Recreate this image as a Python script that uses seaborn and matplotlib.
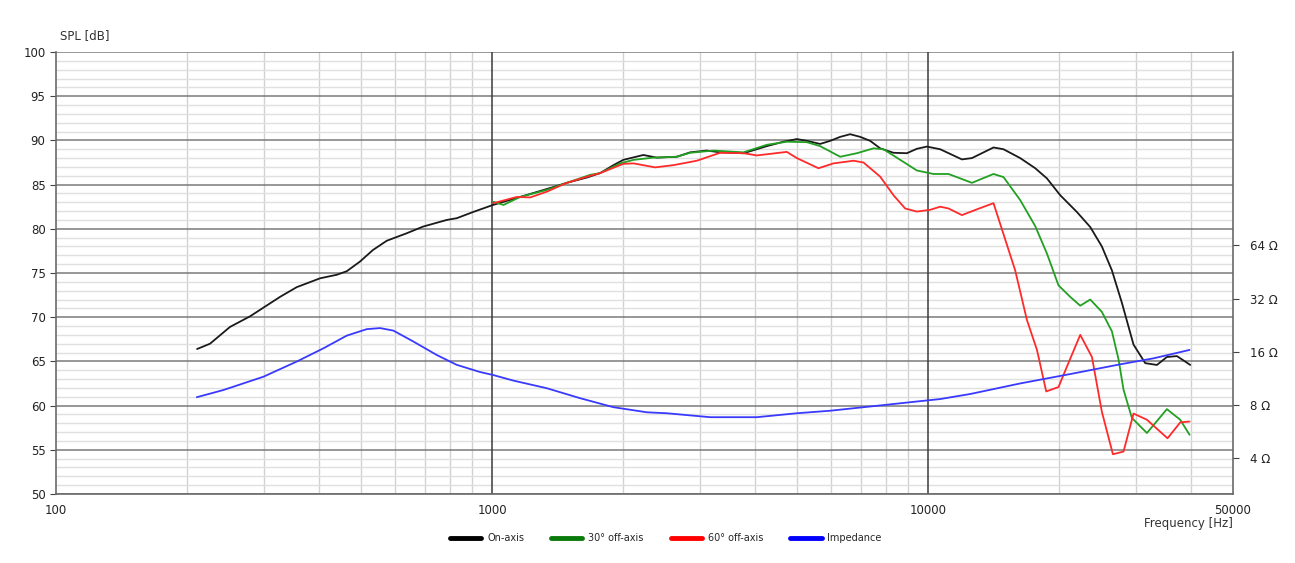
import numpy as np
import pandas as pd
import seaborn as sns
import matplotlib.pyplot as plt
from matplotlib.lines import Line2D
from matplotlib.ticker import FixedLocator, NullFormatter, MultipleLocator, NullLocator

# On-axis response
on_freq = [210.6, 225.5, 250.6, 278.6, 326.4, 356.5, 403.2, 440.4, 464.2, 498, 533, 573.5,
           637.5, 694.6, 787, 830, 904.5, 1005, 1159, 1335, 1484, 1649, 1769, 1898, 2000,
           2223, 2387, 2652, 2846, 3108, 3334, 3772, 4265, 4657, 4998, 5268, 5653, 5961,
           6284, 6624, 6983, 7362, 7761, 8325, 8934, 9419, 9931, 10654, 11950, 12600,
           14118, 14883, 16254, 17600, 18720, 20080, 21930, 23530, 25020, 26380,
           27820, 29570, 31460, 33460, 35270, 37190, 39900]
on_spl = [66.4, 67.0, 68.9, 70.1, 72.3, 73.4, 74.4, 74.8, 75.2, 76.3, 77.6, 78.65,
          79.5, 80.25, 81.0, 81.2, 81.9, 82.7, 83.6, 84.5, 85.2, 85.8, 86.3, 87.2, 87.8,
          88.35, 88.05, 88.15, 88.65, 88.85, 88.65, 88.55, 89.35, 89.85, 90.15, 89.95, 89.6, 89.95,
          90.4, 90.7, 90.4, 89.95, 89.1, 88.6, 88.55, 89.05, 89.3, 89.0, 87.85, 88.0,
          89.2, 89.0, 88.0, 86.85, 85.7, 83.8, 81.9, 80.2, 78.0, 75.3,
          71.6, 66.9, 64.8, 64.6, 65.5, 65.6, 64.6]

# 30 deg off-axis
off30_freq = [1007, 1062, 1159, 1335, 1484, 1678, 1769, 1967, 2110, 2344, 2652, 2846, 3218,
              3772, 4265, 4740, 5268, 5653, 6284, 6862, 7491, 7898, 8627, 9419, 10285, 11133,
              12600, 14118, 14883, 16254, 17600, 18720, 19900, 21170, 22320, 23530, 25020,
              26380, 27330, 28050, 29320, 31740, 35270, 37840, 39750]
off30_spl = [83.05, 82.7, 83.6, 84.4, 85.2, 86.1, 86.3, 87.4, 87.8, 88.05, 88.15, 88.6, 88.85,
             88.65, 89.5, 89.85, 89.8, 89.35, 88.15, 88.55, 89.1, 89.0, 87.8, 86.6, 86.2, 86.2,
             85.2, 86.2, 85.85, 83.25, 80.3, 77.2, 73.6, 72.3, 71.3, 72.0, 70.6,
             68.4, 65.2, 61.8, 58.6, 56.9, 59.6, 58.4, 56.7]

# 60 deg off-axis
off60_freq = [1007, 1139, 1223, 1335, 1484, 1678, 1769, 2000, 2110, 2365, 2605, 2947, 3334,
              3772, 4047, 4740, 4998, 5603, 6065, 6741, 7106, 7761, 8325, 8855, 9419, 10106,
              10654, 11133, 11950, 12930, 14118, 15830, 16840, 17760, 18650, 19900, 20800,
              22320, 23740, 25020, 26520, 28050, 29570, 31740, 35390, 37840, 39750]
off60_spl = [82.9, 83.6, 83.55, 84.2, 85.2, 86.0, 86.3, 87.35, 87.4, 86.95, 87.2, 87.7, 88.6,
             88.55, 88.3, 88.7, 88.0, 86.85, 87.4, 87.7, 87.5, 85.9, 83.8, 82.3, 81.95, 82.15,
             82.5, 82.3, 81.55, 82.2, 82.9, 75.3, 69.7, 66.3, 61.6, 62.1, 64.4,
             68.0, 65.5, 59.3, 54.5, 54.8, 59.1, 58.4, 56.3, 58.1, 58.2]

# Impedance [Ohm]
imp_freq = [210.3, 242, 299, 356.5, 410.4, 464.2, 516, 553.5, 593.7, 659.8, 746.8, 830,
            938.6, 1007, 1119, 1335, 1591, 1898, 2264, 2516, 3162, 4047, 4998, 5961, 7761,
            9254, 10654, 12490, 16255, 21170, 27570, 32860, 39750]
imp_ohm = [8.86, 9.73, 11.57, 14.1, 16.75, 19.76, 21.5, 21.8, 21.1, 18.3, 15.35, 13.5,
           12.3, 11.82, 11.0, 9.96, 8.75, 7.78, 7.28, 7.19, 6.83, 6.83, 7.19, 7.43, 7.96,
           8.34, 8.65, 9.24, 10.6, 11.98, 13.6, 14.7, 16.4]

series_names = ['On-axis', '30° off-axis', '60° off-axis', 'Impedance']
colors = ['#1a1a1a', '#22a022', '#ff2a2a', '#3a3aff']
legend_colors = ['#000000', '#0a7a0a', '#ff0000', '#0000ff']

spl = pd.concat([
    pd.DataFrame({'freq': on_freq, 'spl': on_spl, 'curve': series_names[0]}),
    pd.DataFrame({'freq': off30_freq, 'spl': off30_spl, 'curve': series_names[1]}),
    pd.DataFrame({'freq': off60_freq, 'spl': off60_spl, 'curve': series_names[2]}),
])
imp = pd.DataFrame({'freq': imp_freq, 'ohm': imp_ohm})

sns.set_style('white')
plt.rcParams['font.family'] = ['DejaVu Sans']

fig = plt.figure(figsize=(12.95, 5.63), dpi=100)
ax = fig.add_axes([56 / 1295, 1 - 494 / 563, (1233 - 56) / 1295, (494 - 52) / 563])

ax.set_xscale('log')
ax.set_xlim(100, 50000)
ax.set_ylim(50, 100)

# grid
ax.xaxis.set_major_locator(FixedLocator([100, 1000, 10000, 50000]))
ax.set_xticklabels(['100', '1000', '10000', '50000'])
minor_x = [m * d for d in (100, 1000, 10000) for m in range(2, 10) if m * d < 50000]
ax.xaxis.set_minor_locator(FixedLocator(minor_x))
ax.xaxis.set_minor_formatter(NullFormatter())
ax.yaxis.set_major_locator(MultipleLocator(5))
ax.yaxis.set_minor_locator(MultipleLocator(1))
ax.grid(axis='y', which='minor', color='#e0e0e0', lw=1.0, zorder=0)
ax.grid(axis='y', which='major', color='#7a7a7a', lw=1.1, zorder=0)
ax.grid(axis='x', which='minor', color='#d2d2d2', lw=1.0, zorder=0)
for f in (1000, 10000):
    ax.axvline(f, color='#3a3a3a', lw=1.1, zorder=1)
ax.set_axisbelow(True)

sns.lineplot(data=spl, x='freq', y='spl', hue='curve', palette=dict(zip(series_names[:3], colors[:3])),
             estimator=None, sort=False, lw=1.3, legend=False, ax=ax, zorder=3)
ax.set_xlabel('')
ax.set_ylabel('')

ax.tick_params(axis='both', which='major', labelsize=8.5, colors='#444444', labelcolor='#222222', length=4)
ax.tick_params(axis='x', which='minor', length=2.5, colors='#888888')
ax.tick_params(axis='y', which='minor', length=0)
ax.tick_params(axis='x', pad=3)
for side in ('left', 'bottom', 'right', 'top'):
    ax.spines[side].set_color('#6a6a6a')
    ax.spines[side].set_linewidth(1.2)
ax.spines['top'].set_visible(False)

# impedance on the right axis
ax2 = ax.twinx()
ax2.set_yscale('log', base=2)
ax2.set_ylim(10 ** (8 / 20), 10 ** (58 / 20))
sns.lineplot(data=imp, x='freq', y='ohm', color=colors[3], lw=1.3, estimator=None, ax=ax2)
ax2.set_xlim(100, 50000)
ax2.yaxis.set_major_locator(FixedLocator([4, 8, 16, 32, 64]))
ax2.set_yticklabels(['4 Ω', '8 Ω', '16 Ω', '32 Ω', '64 Ω'])
ax2.yaxis.set_minor_locator(NullLocator())
ax2.set_ylabel('')
ax2.tick_params(axis='y', labelsize=8.5, colors='#444444', labelcolor='#222222', length=4, pad=8)
for side in ('left', 'bottom', 'right', 'top'):
    ax2.spines[side].set_visible(False)

fig.text(60 / 1295, 1 - 36 / 563, 'SPL [dB]', fontsize=8.5, color='#333333', va='center')
fig.text(1233 / 1295, 1 - 523 / 563, 'Frequency [Hz]', fontsize=8.5, color='#333333', ha='right', va='center')

handles = [Line2D([], [], color=c, lw=3.5) for c in legend_colors]
fig.legend(handles, series_names, loc='center', bbox_to_anchor=(666 / 1295, 1 - 538 / 563),
           ncol=4, frameon=False, fontsize=7, handlelength=3.2, columnspacing=2.8, handletextpad=0.6)

plt.savefig('out.png', dpi=100)
